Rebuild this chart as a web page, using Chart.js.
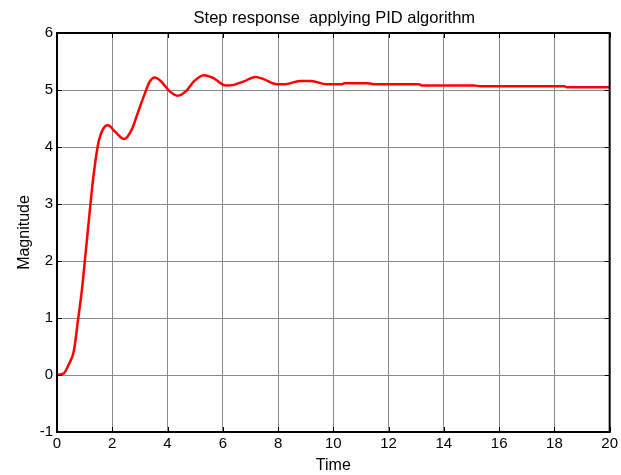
<!DOCTYPE html>
<html>
<head>
<meta charset="utf-8">
<script src="https://cdn.jsdelivr.net/npm/chart.js@4"></script>
<style>
  html, body { margin: 0; padding: 0; background: #fff; }
  canvas { display: block; }
</style>
</head>
<body>
<canvas id="stepChart" width="621" height="475"></canvas>
<script>
// values
const timeValues = [0, 0.25, 0.43, 0.61, 0.77, 0.91, 1.03, 1.15, 1.27, 1.39, 1.51, 1.65, 1.84, 2.1, 2.43, 2.7, 2.94,
  3.18, 3.36, 3.54, 3.77, 4.07, 4.37, 4.67, 4.97, 5.33, 5.69, 6.1, 6.4, 6.76, 7.18, 7.48, 7.95, 8.25, 8.79, 9.2,
  9.75, 10.3, 10.4, 11.25, 11.5, 13.1, 13.2, 15.1, 15.3, 18.35, 18.45, 20];
const magnitudeValues = [0, 0.03, 0.19, 0.42, 1.0, 1.53, 2.11, 2.70, 3.28, 3.75, 4.10, 4.30, 4.38, 4.27, 4.14, 4.30, 4.62,
  4.94, 5.15, 5.22, 5.15, 4.98, 4.90, 4.98, 5.16, 5.26, 5.20, 5.08, 5.09, 5.15, 5.23, 5.19, 5.10, 5.10, 5.16, 5.16,
  5.10, 5.10, 5.12, 5.12, 5.10, 5.10, 5.08, 5.08, 5.065, 5.065, 5.05, 5.05];
const xTicks = [0, 2, 4, 6, 8, 10, 12, 14, 16, 18, 20];
const yTicks = [-1, 0, 1, 2, 3, 4, 5, 6];
const chartTitle = 'Step response  applying PID algorithm';

const FONT = 'Liberation Sans, Arial, sans-serif';

// draws the box, the inward ticks and the title (matlab style)
const boxPlugin = {
  id: 'box',
  afterDraw(chart) {
    const { ctx, chartArea: a, scales } = chart;
    ctx.save();
    ctx.strokeStyle = '#000';
    ctx.lineWidth = 1;
    xTicks.forEach(t => {
      const x = Math.round(scales.x.getPixelForValue(t)) + 0.5;
      ctx.beginPath();
      ctx.moveTo(x, a.top); ctx.lineTo(x, a.top + 5);
      ctx.moveTo(x, a.bottom); ctx.lineTo(x, a.bottom - 5);
      ctx.stroke();
    });
    yTicks.forEach(t => {
      const y = Math.round(scales.y.getPixelForValue(t)) + 0.5;
      ctx.beginPath();
      ctx.moveTo(a.left, y); ctx.lineTo(a.left + 5, y);
      ctx.moveTo(a.right, y); ctx.lineTo(a.right - 5, y);
      ctx.stroke();
    });
    ctx.lineWidth = 2;
    ctx.strokeRect(a.left, a.top, a.right - a.left, a.bottom - a.top);
    ctx.fillStyle = '#000';
    ctx.font = '16.5px ' + FONT;
    ctx.textAlign = 'center';
    ctx.textBaseline = 'middle';
    ctx.fillText(chartTitle, (a.left + a.right) / 2 + 1, 18);
    ctx.restore();
  }
};

new Chart(document.getElementById('stepChart'), {
  type: 'line',
  data: {
    datasets: [{
      data: timeValues.map((t, i) => ({ x: t, y: magnitudeValues[i] })),
      borderColor: '#ff0000',
      borderWidth: 2.5,
      pointRadius: 0,
      fill: false,
      cubicInterpolationMode: 'monotone'
    }]
  },
  options: {
    responsive: false,
    animation: false,
    layout: { padding: { top: 33, right: 8, left: 0, bottom: 0 } },
    plugins: { legend: { display: false }, tooltip: { enabled: false } },
    scales: {
      x: {
        type: 'linear',
        min: 0, max: 20,
        afterFit(scale) { scale.height = 43; },
        afterBuildTicks(scale) { scale.ticks = xTicks.map(v => ({ value: v })); },
        ticks: { color: '#000', font: { family: FONT, size: 15 }, padding: 3, maxRotation: 0 },
        grid: { color: '#8a8a8a', lineWidth: 1, drawTicks: false },
        border: { display: false },
        title: { display: true, text: 'Time', color: '#000', font: { family: FONT, size: 16 }, padding: { top: 0, bottom: 0 } }
      },
      y: {
        min: -1, max: 6,
        afterFit(scale) { scale.width = 57; },
        afterBuildTicks(scale) { scale.ticks = yTicks.map(v => ({ value: v })); },
        ticks: { color: '#000', font: { family: FONT, size: 15 }, padding: 4 },
        grid: { color: '#8a8a8a', lineWidth: 1, drawTicks: false },
        border: { display: false },
        title: { display: true, text: 'Magnitude', color: '#000', font: { family: FONT, size: 16 }, padding: { top: 15, bottom: 0 } }
      }
    }
  },
  plugins: [boxPlugin]
});
</script>
</body>
</html>
